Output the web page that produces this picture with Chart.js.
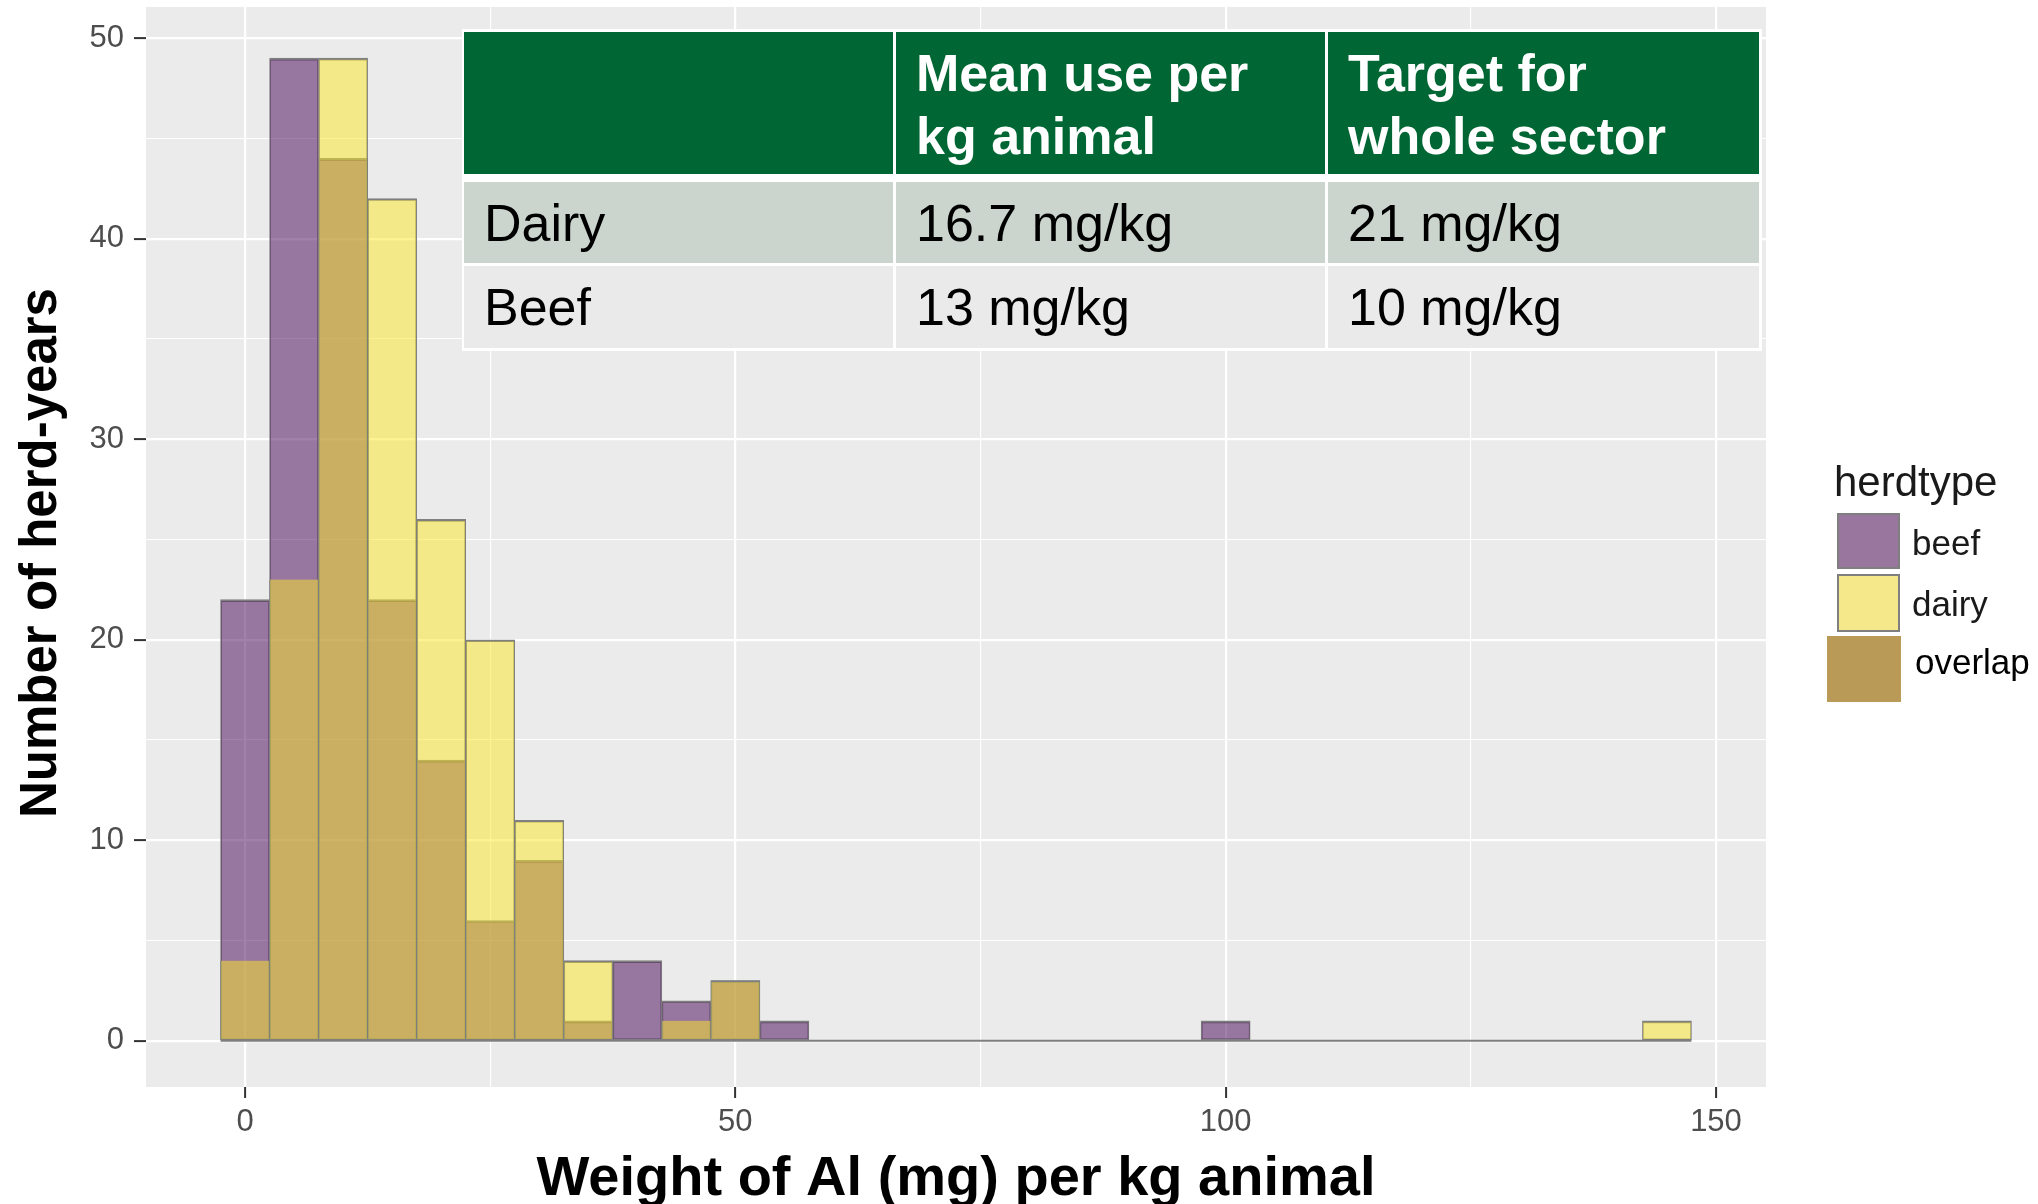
<!DOCTYPE html>
<html><head><meta charset="utf-8">
<script src="https://cdn.jsdelivr.net/npm/chart.js@4.4.1/dist/chart.umd.min.js"></script>
<style>
html,body{margin:0;padding:0;background:#fff;}
#wrap{position:relative;width:2038px;height:1204px;overflow:hidden;background:#fff;}
#c{position:absolute;left:0;top:0;}
.cell{position:absolute;box-sizing:border-box;display:flex;align-items:center;padding-left:20px;font-family:"Liberation Sans",Arial,sans-serif;font-size:52px;color:#000;white-space:pre-line;}
.hdr{background:#006633;color:#fff;font-weight:bold;font-size:52px;line-height:63px;padding-top:4px;}
.r0{background:#CBD5CD;}
.r1{background:#E9EAE9;}
</style></head>
<body><div id="wrap"><canvas id="c" width="2038" height="1204"></canvas><div id="tbl"></div></div>
<script>
// ---------- data ----------
const binCenters = [0,5,10,15,20,25,30,35,40,45,50,55,60,65,70,75,80,85,90,95,100,105,110,115,120,125,130,135,140,145];
const beefCounts  = [22,49,44,22,14,6,9,1,4,2,3,1,0,0,0,0,0,0,0,0,1,0,0,0,0,0,0,0,0,0];
const dairyCounts = [4,23,49,42,26,20,11,4,0,1,3,0,0,0,0,0,0,0,0,0,0,0,0,0,0,0,0,0,0,1];
const seriesNames = ['beef','dairy'];
const xTickValues = [0,25,50,75,100,125,150];
const xTickLabels = ['0','','50','','100','','150'];
const yTickValues = [0,5,10,15,20,25,30,35,40,45,50];
const yTickLabels = ['0','','10','','20','','30','','40','','50'];
const xTitle = 'Weight of Al (mg) per kg animal';
const yTitle = 'Number of herd-years';
const legendTitle = 'herdtype';
const legendLabels = ['beef','dairy','overlap'];
const tableColumns = ['', 'Mean use per\nkg animal', 'Target for\nwhole sector'];
const tableRowNames = ['Dairy','Beef'];
const tableMeanUse = ['16.7 mg/kg','13 mg/kg'];
const tableTarget = ['21 mg/kg','10 mg/kg'];

// ---------- table (HTML) ----------
(function(){
  const tbl = document.getElementById('tbl');
  const colX = [464, 896, 1328], colW = [429, 429, 431];
  const rowY = [32, 182, 266], rowH = [142, 81, 82];
  const rows = [tableColumns];
  tableRowNames.forEach((n,i)=>rows.push([n, tableMeanUse[i], tableTarget[i]]));
  const bg = document.createElement('div');
  bg.style.cssText = 'position:absolute;left:462px;top:29px;width:1300px;height:322px;background:#fff;';
  tbl.appendChild(bg);
  rows.forEach((r,ri)=>{
    r.forEach((t,ci)=>{
      const d = document.createElement('div');
      d.className = 'cell ' + (ri===0 ? 'hdr' : ('r'+(ri-1)));
      d.style.left = colX[ci]+'px'; d.style.top = rowY[ri]+'px';
      d.style.width = colW[ci]+'px'; d.style.height = rowH[ri]+'px';
      d.textContent = t;
      tbl.appendChild(d);
    });
  });
})();

// ---------- chart ----------
const FONT = '"Liberation Sans", Arial, sans-serif';
const binWidth = binCenters[1] - binCenters[0];
const beefData = binCenters.map((x,i)=>({x:x, y:beefCounts[i]}));
const dairyData = binCenters.map((x,i)=>({x:x, y:dairyCounts[i]}));
const baseData = [{x: binCenters[0]-binWidth/2, y:0}, {x: binCenters[binCenters.length-1]+binWidth/2, y:0}];

const panelBg = {
  id:'panelBg',
  beforeDraw(chart){
    const {ctx, chartArea:a} = chart;
    ctx.save(); ctx.fillStyle = '#EBEBEB';
    ctx.fillRect(a.left, a.top, a.right-a.left, a.bottom-a.top);
    ctx.restore();
  }
};
const yTitlePlugin = {
  id:'yTitlePlugin',
  afterDraw(chart){
    const ctx = chart.ctx, a = chart.chartArea;
    ctx.save();
    ctx.translate(41.5, (a.top + a.bottom)/2 + 6);
    ctx.rotate(-Math.PI/2);
    ctx.font = 'bold 51px ' + FONT; ctx.fillStyle = '#000';
    ctx.textAlign = 'center'; ctx.textBaseline = 'middle';
    ctx.fillText(yTitle, 0, 0);
    ctx.restore();
  }
};
const herdLegend = {
  id:'herdLegend',
  afterDraw(chart){
    const ctx = chart.ctx;
    ctx.save();
    ctx.textBaseline = 'alphabetic'; ctx.textAlign = 'left';
    ctx.font = '42px ' + FONT; ctx.fillStyle = '#1A1A1A';
    ctx.fillText(legendTitle, 1834, 496);
    const keys = [
      {x:1837, y:513, w:63, h:56, fill:'rgb(152,118,157)', border:true},
      {x:1837, y:574, w:63, h:58, fill:'rgb(244,232,138)', border:true},
      {x:1827, y:636, w:74, h:66, fill:'#B99A56', border:false}
    ];
    const labY = [555, 616, 674], labX = [1912, 1912, 1915], labC = ['#1A1A1A','#1A1A1A','#000'];
    keys.forEach((k,i)=>{
      ctx.fillStyle = k.fill; ctx.fillRect(k.x, k.y, k.w, k.h);
      if (k.border){ ctx.strokeStyle = '#7F7F7F'; ctx.lineWidth = 2; ctx.strokeRect(k.x+1, k.y+1, k.w-2, k.h-2); }
      ctx.font = '35px ' + FONT; ctx.fillStyle = labC[i];
      ctx.fillText(legendLabels[i], labX[i], labY[i]);
    });
    ctx.restore();
  }
};

const isMajorX = v => xTickLabels[xTickValues.indexOf(v)] !== '';
const isMajorY = v => yTickLabels[yTickValues.indexOf(v)] !== '';

new Chart(document.getElementById('c'), {
  type:'bar',
  data:{ datasets:[
    {type:'line', label:'zero', data: baseData, borderColor:'#7F7F7F', borderWidth:2, pointRadius:0, order:3},
    {label: seriesNames[0], data: beefData, backgroundColor:'rgba(68,1,84,0.5)', borderColor:'#7F7F7F',
     borderWidth:{top:2,left:1,right:1,bottom:1}, borderSkipped:false, grouped:false, order:2,
     barPercentage:1, categoryPercentage:1},
    {label: seriesNames[1], data: dairyData, backgroundColor:'rgba(253,231,37,0.5)', borderColor:'#7F7F7F',
     borderWidth: c => { const i = c.dataIndex; if (i === undefined) return 1;
        return dairyCounts[i] >= beefCounts[i] ? {top:2,left:1,right:1,bottom:1} : {top:0,left:1,right:1,bottom:1}; },
     borderSkipped:false, grouped:false, order:1, barPercentage:1, categoryPercentage:1}
  ]},
  options:{
    responsive:false, animation:false, devicePixelRatio:1,
    layout:{padding:{top:7, right:272, left:0, bottom:0}},
    plugins:{legend:{display:false}, tooltip:{enabled:false}},
    scales:{
      x:{type:'linear', min:-10.1, max:155.1, offset:false,
        afterBuildTicks(s){ s.ticks = xTickValues.map(v=>({value:v})); },
        afterFit(s){ s.height = 117; s.paddingLeft = 0; s.paddingRight = 0; },
        ticks:{callback:(v)=>xTickLabels[xTickValues.indexOf(v)], font:{family:FONT, size:31}, color:'#4D4D4D', padding:6, maxRotation:0, autoSkip:false},
        grid:{offset:false, color:'#FFFFFF', lineWidth: c => isMajorX(c.tick.value) ? 2.2 : 1.1,
          tickLength:11, tickWidth:2, tickColor: c => isMajorX(c.tick.value) ? '#333333' : 'rgba(0,0,0,0)'},
        border:{display:false},
        title:{display:true, text:xTitle, color:'#000', font:{family:FONT, size:56, weight:'bold', lineHeight:0.8}, padding:{top:0, bottom:1.6}}
      },
      y:{type:'linear', min:-2.3, max:51.55, beginAtZero:false,
        afterBuildTicks(s){ s.ticks = yTickValues.map(v=>({value:v})); },
        afterFit(s){ s.width = 146; s.paddingTop = 0; s.paddingBottom = 0; },
        ticks:{callback:(v)=>yTickLabels[yTickValues.indexOf(v)], font:{family:FONT, size:31}, color:'#4D4D4D', padding:10, autoSkip:false},
        grid:{color:'#FFFFFF', lineWidth: c => isMajorY(c.tick.value) ? 2.2 : 1.1,
          tickLength:12, tickWidth:2, tickColor: c => isMajorY(c.tick.value) ? '#333333' : 'rgba(0,0,0,0)'},
        border:{display:false},
        title:{display:false, text:yTitle}
      }
    }
  },
  plugins:[panelBg, herdLegend, yTitlePlugin]
});
</script>
</body></html>
